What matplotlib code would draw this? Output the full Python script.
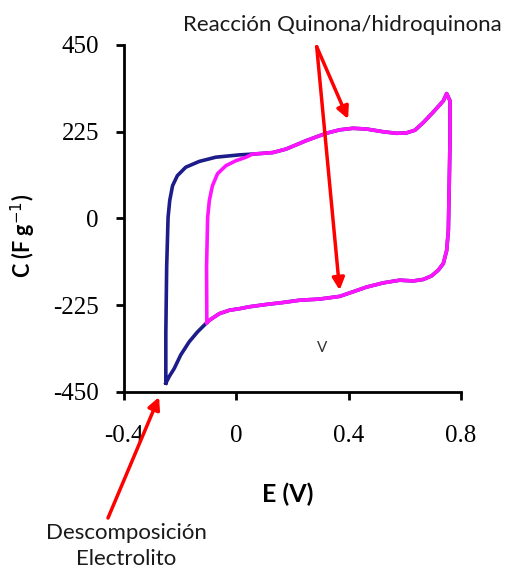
import matplotlib
matplotlib.use("Agg")
from matplotlib import pyplot as plt

plt.rcParams['axes.unicode_minus'] = False

# voltammogram branches (E in V, C in F/g)
blue_left_E = [-0.251, -0.251, -0.248, -0.243, -0.237, -0.227, -0.21, -0.18, -0.132, -0.073, 0.011]
blue_left_C = [-427, -298, -126, 3, 47, 85, 111, 133, 148, 159, 165]

pink_left_E = [-0.105, -0.106, -0.102, -0.096, -0.085, -0.067, -0.037, -0.001, 0.035]
pink_left_C = [-270, -126, 3, 47, 85, 116, 137, 150, 159]

top_E = [0.058, 0.13, 0.177, 0.249, 0.32, 0.368, 0.416, 0.464, 0.523, 0.57, 0.606, 0.636,
         0.666, 0.70, 0.737, 0.749]
top_C = [167, 171, 180, 202, 221, 230, 234, 232, 225, 221, 222, 229,
         249, 275, 305, 324]

bottom_E = [0.761, 0.761, 0.758, 0.755, 0.749, 0.737, 0.719, 0.695, 0.666, 0.63, 0.582,
            0.523, 0.463, 0.416, 0.368, 0.296, 0.225, 0.165, 0.106, 0.046, 0.011, -0.025,
            -0.061, -0.096, -0.105]
bottom_C = [305, 210, 81, -31, -83, -117, -134, -149, -158, -162, -160,
            -167, -178, -190, -202, -209, -212, -218, -223, -229, -234, -238,
            -247, -264, -270]

blue_tail_E = [-0.138, -0.168, -0.198, -0.221, -0.239, -0.251]
blue_tail_C = [-294, -320, -354, -389, -410, -427]

x_ticks = [-0.4, 0, 0.4, 0.8]
x_labels = ['-0.4', '0', '0.4', '0.8']
y_ticks = [-450, -225, 0, 225, 450]

blue_E = blue_left_E + top_E + bottom_E + blue_tail_E
blue_C = blue_left_C + top_C + bottom_C + blue_tail_C
pink_E = pink_left_E + top_E + bottom_E
pink_C = pink_left_C + top_C + bottom_C

fig = plt.figure(figsize=(5.26, 5.71), dpi=100)
ax = fig.add_axes([0.2357, 0.3135, 0.6407, 0.6077])

ax.plot(blue_E, blue_C, color='#1c1c8a', lw=2.6, solid_joinstyle='round')
ax.plot(pink_E, pink_C, color='#ff14ff', lw=2.6, solid_joinstyle='round')

ax.set_xlim(-0.4, 0.8)
ax.set_ylim(-450, 450)
ax.spines['top'].set_visible(False)
ax.spines['right'].set_visible(False)
for s in ('left', 'bottom'):
    ax.spines[s].set_linewidth(2)
ax.set_xticks(x_ticks)
ax.set_xticklabels(x_labels)
ax.set_yticks(y_ticks)
ax.tick_params(width=2, length=6, labelsize=18)
ax.tick_params(axis='x', pad=18)
ax.tick_params(axis='y', pad=12)
for lab in ax.get_xticklabels() + ax.get_yticklabels():
    lab.set_family('Liberation Serif')

ax.set_xlabel('E (V)', family='Lato', fontsize=18, fontweight='bold')
ax.xaxis.set_label_coords(0.485, -0.262)
ax.set_ylabel('C (F g$^{-1}$)', family='Lato', fontsize=15.5, fontweight='bold')
ax.yaxis.set_label_coords(-0.255, 0.45)

ax.text(0.307, -336, 'V', fontsize=11, family='Lato', color='#333333',
        ha='center', va='center')

arrow = dict(arrowstyle='-|>', color='#ff0000', lw=2.5, mutation_scale=18, shrinkA=0, shrinkB=0)
ax.annotate('', xy=(0.398, 258), xytext=(316.7, 524.3), textcoords='figure pixels',
            arrowprops=arrow, annotation_clip=False)
ax.annotate('', xy=(0.368, -186), xytext=(316.7, 524.3), textcoords='figure pixels',
            arrowprops=arrow, annotation_clip=False)
ax.annotate('', xy=(-0.275, -463), xytext=(108, 53), textcoords='figure pixels',
            arrowprops=arrow, annotation_clip=False)

fig.text(342 / 526, 1 - 25 / 571, 'Reacción Quinona/hidroquinona', family='Lato',
         fontsize=16, ha='center', va='center', color='#1a1a1a')
fig.text(126 / 526, 1 - 523 / 571, 'Descomposición\nElectrolito', family='Lato',
         fontsize=16, ha='center', va='top', color='#1a1a1a', linespacing=1.4)

fig.savefig('out.png', dpi=100)
